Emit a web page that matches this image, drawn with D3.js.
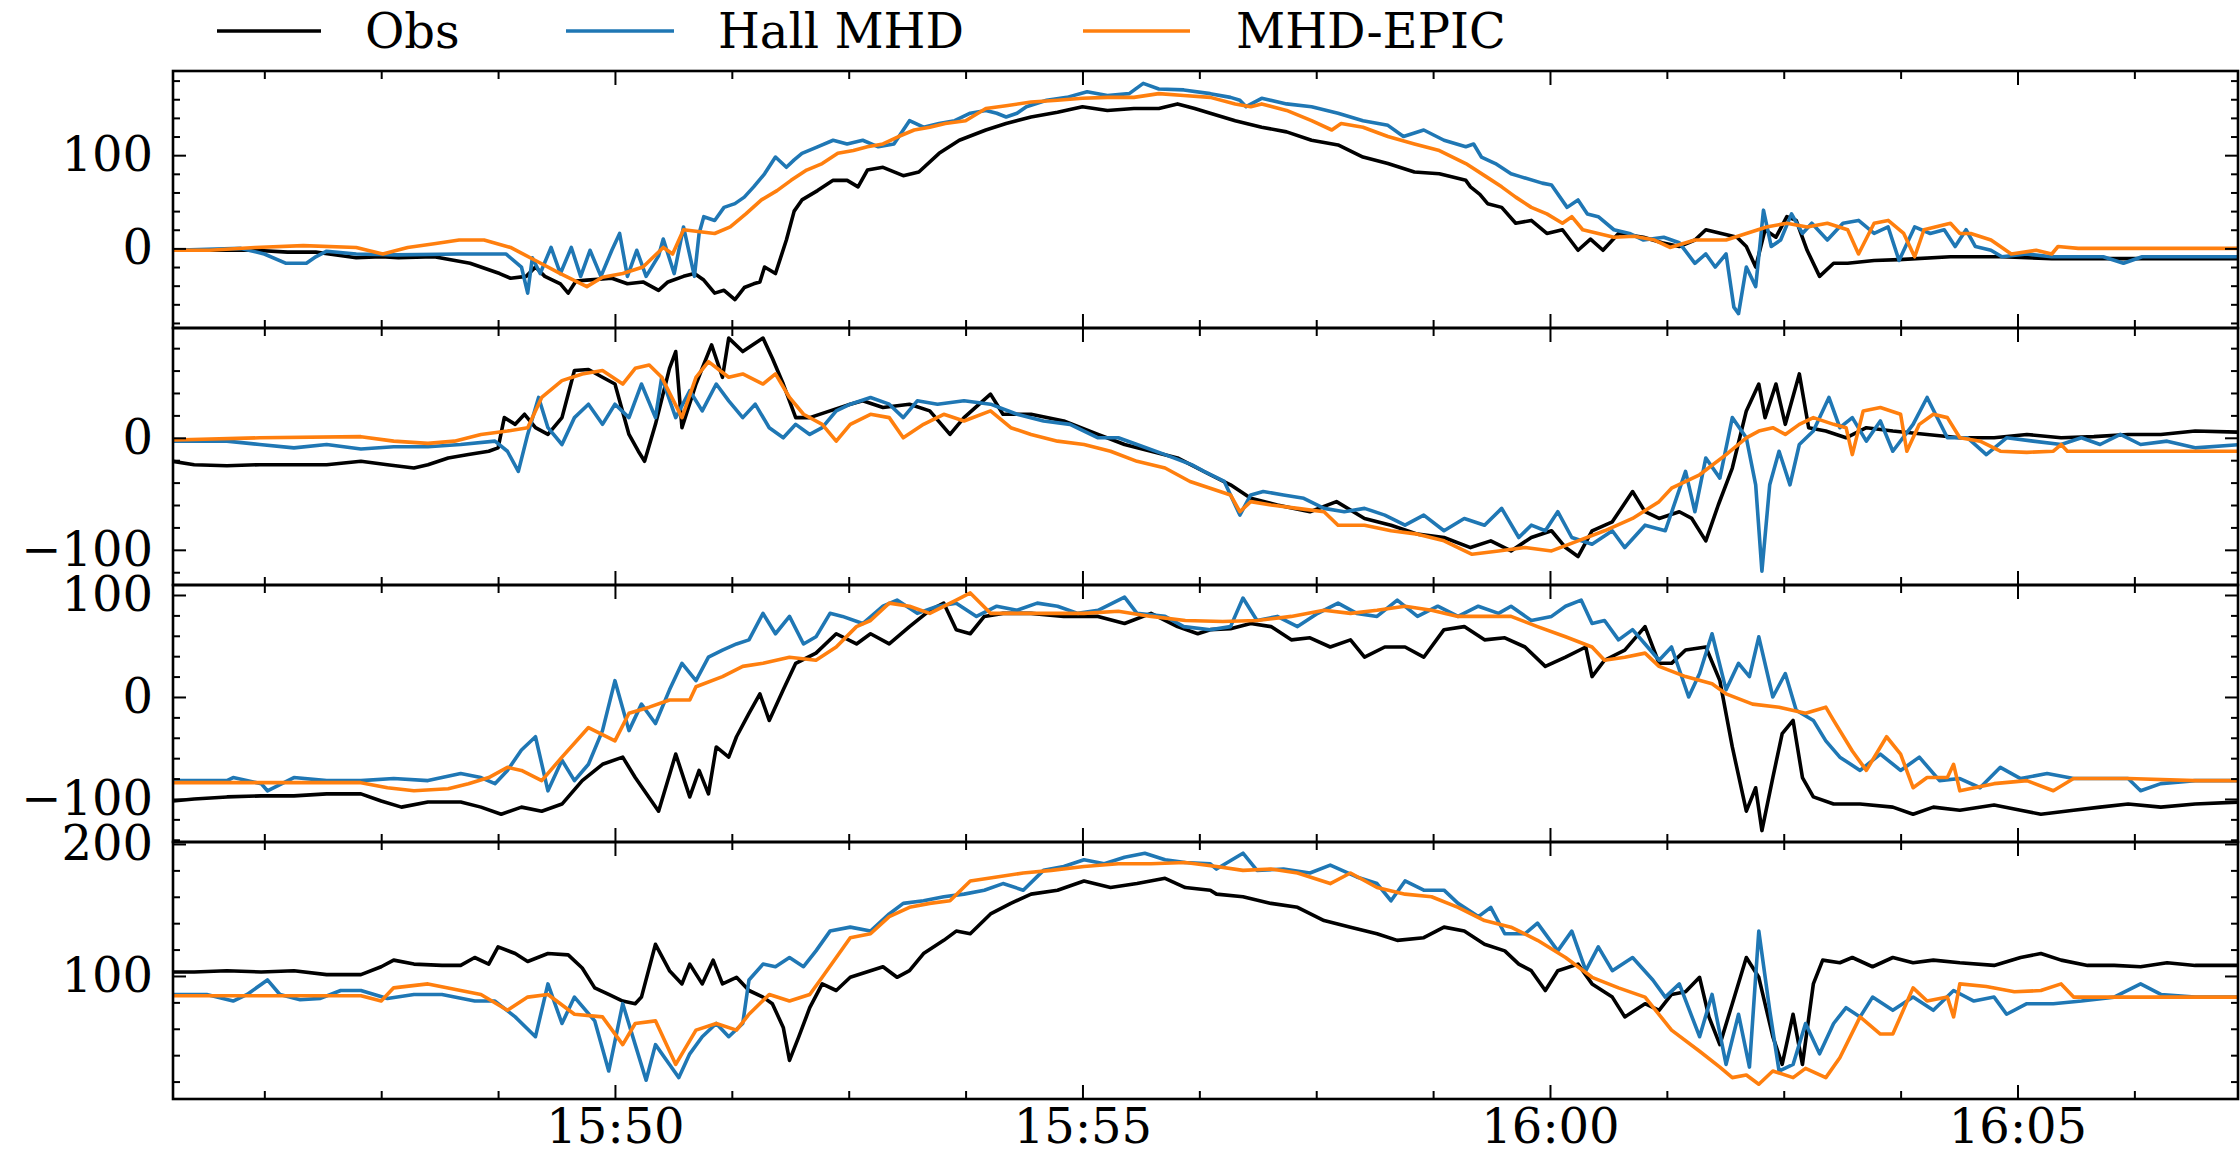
<!DOCTYPE html>
<html>
<head>
<meta charset="utf-8">
<script src="https://cdn.jsdelivr.net/npm/d3@7"></script>
<style>
  html, body { margin: 0; padding: 0; background: #ffffff; }
  svg { display: block; }
  text { font-family: "DejaVu Serif", serif; fill: #000; }
</style>
</head>
<body>
<svg id="chart" width="2240" height="1155"></svg>
<script>
// Magnetic field components, samples given as [seconds after 15:45:00 UT, nT]

const obsBx = [[16,-2],[69,-2],[90,-4],[108,-4],[134,-10],[150,-9],[161,-10],[184,-9],[207,-16],[226,-27],[233,-32],[243,-30],[249,-20],[255,-30],[265,-38],[270,-48],[275,-35],[282,-34],[298,-32],[308,-38],[318,-36],[328,-45],[334,-36],[344,-30],[351,-27],[357,-34],[364,-48],[370,-45],[377,-55],[383,-42],[389,-38],[393,-36],[396,-20],[403,-27],[410,9],[415,40],[420,52],[430,62],[440,73],[449,73],[456,66],[462,84],[472,87],[485,78],[495,82],[508,102],[521,116],[538,127],[551,134],[567,141],[584,146],[600,152],[616,148],[633,150],[649,150],[661,155],[672,150],[682,145],[698,137],[715,130],[731,125],[747,116],[764,111],[780,98],[796,91],[813,82],[829,80],[846,73],[849,66],[855,58],[860,48],[869,44],[878,27],[888,30],[898,16],[908,20],[918,-2],[926,10],[934,-2],[944,16],[960,12],[972,6],[983,2],[993,9],[1000,20],[1010,16],[1020,12],[1026,2],[1032,-20],[1038,20],[1045,12],[1052,34],[1058,30],[1065,-2],[1073,-30],[1082,-16],[1091,-16],[1108,-13],[1124,-12],[1157,-9],[1190,-9],[1222,-11],[1255,-11],[1288,-11],[1343,-11]];
const hallBx = [[16,-2],[60,0],[75,-6],[89,-16],[102,-16],[108,-9],[115,-3],[134,-6],[160,-7],[200,-6],[230,-6],[240,-20],[244,-48],[247,-10],[252,-27],[259,1],[265,-27],[272,1],[278,-30],[284,-2],[291,-30],[298,-2],[303,16],[308,-30],[314,-2],[320,-30],[328,-8],[331,10],[338,-27],[344,23],[351,-30],[354,16],[357,34],[364,30],[370,44],[377,48],[383,55],[389,66],[396,80],[403,98],[410,87],[415,95],[420,102],[430,109],[440,116],[449,112],[459,116],[469,109],[479,112],[489,137],[498,130],[508,134],[518,137],[528,145],[538,148],[545,145],[551,141],[558,145],[564,152],[577,159],[590,162],[603,168],[616,164],[630,166],[639,177],[649,171],[665,170],[682,166],[695,162],[701,159],[705,152],[715,161],[731,155],[747,152],[764,145],[780,137],[796,132],[806,120],[819,127],[832,116],[846,109],[851,112],[856,98],[865,91],[875,80],[881,77],[895,70],[901,68],[911,44],[918,52],[924,37],[931,34],[941,20],[951,16],[960,9],[973,12],[983,6],[993,-16],[1000,-6],[1006,-20],[1013,-6],[1018,-63],[1021,-70],[1026,-20],[1032,-41],[1037,41],[1042,2],[1048,9],[1055,37],[1062,16],[1068,27],[1078,9],[1088,27],[1098,30],[1108,16],[1117,23],[1124,-13],[1134,23],[1144,16],[1153,20],[1160,2],[1167,20],[1173,2],[1183,-2],[1190,-9],[1206,-6],[1222,-9],[1255,-9],[1268,-16],[1280,-9],[1321,-9],[1343,-9]];
const epicBx = [[16,-2],[40,-2],[69,1],[100,3],[134,1],[151,-6],[167,1],[184,5],[200,9],[216,9],[233,1],[249,-13],[265,-27],[282,-41],[292,-31],[305,-27],[318,-20],[331,1],[337,-6],[344,20],[364,16],[374,23],[384,37],[394,52],[404,62],[413,73],[423,84],[433,91],[443,102],[453,105],[462,109],[472,112],[482,120],[492,127],[502,130],[512,134],[525,137],[538,150],[551,153],[567,157],[584,159],[600,161],[616,162],[633,162],[649,166],[665,164],[682,162],[698,155],[708,152],[715,155],[731,148],[747,137],[760,127],[766,134],[780,130],[796,120],[813,112],[829,105],[846,91],[859,77],[869,66],[878,55],[888,44],[898,37],[908,27],[914,34],[921,20],[931,16],[941,12],[954,13],[967,9],[977,1],[993,9],[1013,9],[1026,16],[1039,23],[1052,27],[1065,23],[1078,27],[1091,20],[1098,-6],[1108,27],[1117,30],[1127,16],[1134,-9],[1140,20],[1157,27],[1163,16],[1170,16],[1183,9],[1196,-6],[1212,-2],[1222,-6],[1226,2],[1239,0],[1288,0],[1343,0]];

const obsBy = [[16,-21],[30,-24],[51,-25],[72,-24],[94,-24],[115,-24],[137,-21],[154,-24],[171,-27],[180,-24],[193,-18],[206,-15],[219,-12],[225,-9],[229,18],[236,12],[242,21],[249,9],[257,3],[266,18],[274,60],[283,61],[292,54],[300,48],[309,3],[315,-12],[319,-21],[326,12],[335,62],[339,77],[343,9],[352,48],[362,83],[369,54],[373,89],[382,77],[395,89],[401,71],[408,48],[416,18],[425,18],[438,24],[451,30],[459,33],[472,27],[489,30],[502,24],[515,3],[524,18],[541,39],[549,21],[567,21],[588,15],[610,3],[627,-6],[644,-12],[661,-18],[682,-33],[695,-42],[708,-54],[725,-60],[746,-66],[763,-57],[781,-72],[798,-78],[815,-86],[832,-89],[849,-98],[862,-92],[875,-101],[888,-89],[901,-83],[910,-98],[918,-106],[927,-83],[940,-75],[953,-48],[961,-66],[970,-72],[983,-66],[991,-72],[1000,-92],[1008,-60],[1017,-27],[1026,24],[1034,48],[1038,18],[1045,48],[1051,12],[1060,57],[1066,9],[1077,6],[1090,0],[1103,9],[1120,6],[1142,3],[1163,0],[1185,0],[1206,3],[1228,0],[1249,1],[1271,3],[1292,3],[1314,6],[1343,5]];
const hallBy = [[16,-3],[51,-3],[72,-6],[94,-9],[115,-6],[137,-10],[158,-8],[180,-8],[201,-6],[223,-3],[231,-12],[238,-30],[244,3],[251,36],[257,9],[266,-6],[274,18],[283,30],[292,12],[300,30],[309,18],[317,48],[326,18],[330,54],[339,18],[348,42],[356,24],[365,48],[373,33],[382,18],[390,30],[399,9],[408,0],[416,12],[425,3],[433,9],[442,24],[451,30],[464,36],[476,30],[485,18],[494,33],[507,30],[524,33],[541,30],[558,21],[575,15],[592,12],[610,0],[623,0],[635,-6],[653,-15],[670,-24],[678,-30],[691,-39],[701,-69],[708,-51],[716,-48],[729,-51],[742,-54],[755,-63],[768,-66],[781,-63],[794,-69],[807,-78],[819,-69],[832,-83],[845,-72],[858,-78],[869,-63],[880,-89],[888,-78],[897,-83],[905,-66],[914,-89],[927,-95],[940,-83],[948,-98],[961,-78],[974,-83],[987,-30],[993,-66],[1000,-18],[1009,-36],[1017,18],[1026,0],[1032,-42],[1036,-119],[1041,-42],[1047,-12],[1054,-42],[1060,-6],[1069,6],[1079,36],[1086,9],[1094,18],[1103,-3],[1112,15],[1120,-12],[1133,12],[1142,36],[1155,0],[1168,0],[1180,-15],[1193,0],[1210,-3],[1228,-6],[1241,0],[1253,-6],[1266,3],[1279,-6],[1296,-3],[1314,-9],[1343,-6]];
const epicBy = [[16,-2],[72,0],[137,1],[158,-3],[180,-5],[197,-3],[214,3],[231,6],[244,9],[253,36],[266,51],[279,57],[292,60],[305,48],[313,62],[322,65],[330,54],[343,18],[352,54],[360,68],[373,54],[382,57],[395,48],[403,57],[412,36],[421,21],[433,12],[442,-3],[451,12],[464,21],[476,18],[485,0],[498,12],[511,21],[524,15],[541,24],[554,9],[567,3],[584,-3],[601,-6],[618,-12],[635,-21],[653,-27],[669,-39],[682,-45],[695,-51],[701,-66],[708,-57],[721,-60],[738,-63],[755,-66],[764,-78],[781,-78],[798,-83],[815,-86],[832,-92],[850,-104],[867,-101],[884,-98],[901,-101],[918,-92],[935,-83],[953,-72],[970,-57],[978,-45],[996,-33],[1013,-15],[1026,0],[1034,6],[1043,9],[1051,3],[1060,12],[1069,18],[1082,12],[1090,9],[1094,-15],[1101,24],[1112,27],[1125,21],[1129,-12],[1137,12],[1146,21],[1155,18],[1163,0],[1176,-3],[1189,-12],[1206,-13],[1223,-12],[1228,-6],[1232,-12],[1271,-12],[1343,-12]];

const obsBz = [[16,-102],[30,-100],[51,-98],[73,-97],[94,-97],[115,-95],[137,-95],[150,-102],[163,-108],[180,-103],[201,-103],[214,-108],[227,-115],[240,-108],[253,-112],[266,-105],[279,-82],[292,-66],[305,-59],[313,-79],[328,-112],[339,-56],[348,-98],[354,-72],[360,-95],[365,-49],[373,-59],[378,-39],[386,-16],[393,3],[399,-23],[408,7],[416,33],[429,43],[442,62],[455,52],[464,62],[476,52],[489,69],[502,85],[511,92],[519,66],[528,62],[537,79],[549,82],[567,82],[588,79],[610,79],[627,72],[644,82],[661,69],[674,62],[682,66],[695,67],[708,72],[721,69],[734,56],[746,58],[759,49],[772,56],[781,39],[794,49],[807,49],[819,39],[832,66],[845,69],[858,56],[871,58],[884,49],[897,30],[910,39],[923,49],[927,20],[935,36],[948,46],[961,69],[970,33],[978,33],[987,46],[1000,49],[1009,16],[1017,-49],[1026,-112],[1032,-89],[1036,-131],[1043,-79],[1049,-36],[1056,-23],[1062,-79],[1069,-98],[1082,-105],[1099,-105],[1120,-108],[1133,-115],[1146,-108],[1163,-111],[1185,-106],[1202,-111],[1215,-115],[1236,-111],[1253,-108],[1271,-105],[1292,-108],[1314,-105],[1343,-103]];
const hallBz = [[16,-82],[51,-82],[55,-79],[73,-85],[77,-92],[94,-79],[115,-82],[137,-82],[158,-80],[180,-82],[201,-75],[214,-79],[223,-85],[231,-72],[240,-52],[249,-39],[257,-92],[266,-62],[274,-82],[283,-66],[292,-33],[300,16],[309,-33],[317,-7],[326,-26],[335,7],[343,33],[352,16],[360,39],[369,46],[378,52],[386,56],[395,82],[403,62],[412,79],[421,52],[429,59],[438,82],[446,79],[459,72],[472,89],[481,95],[494,82],[507,89],[519,92],[532,79],[545,89],[558,85],[571,92],[584,89],[597,82],[610,85],[627,98],[635,82],[653,79],[665,69],[682,66],[695,69],[703,97],[712,75],[725,79],[738,69],[751,82],[764,92],[776,82],[789,79],[802,95],[815,79],[828,89],[841,79],[854,89],[867,82],[875,89],[888,75],[901,79],[910,89],[920,95],[927,72],[935,75],[944,56],[953,66],[961,52],[970,36],[978,49],[989,0],[996,23],[1004,62],[1013,7],[1021,33],[1028,20],[1034,59],[1043,0],[1051,23],[1058,-13],[1069,-23],[1077,-43],[1086,-59],[1099,-72],[1112,-56],[1125,-72],[1137,-59],[1150,-82],[1163,-80],[1176,-89],[1189,-69],[1202,-80],[1219,-75],[1236,-80],[1253,-80],[1271,-80],[1279,-92],[1292,-85],[1314,-82],[1343,-82]];
const epicBz = [[16,-84],[137,-84],[154,-89],[171,-92],[193,-90],[206,-85],[219,-79],[231,-69],[240,-72],[253,-82],[266,-59],[283,-30],[300,-43],[309,-16],[322,-10],[335,-3],[348,-3],[352,10],[369,20],[382,30],[395,33],[412,39],[429,36],[442,49],[455,69],[464,75],[476,92],[489,89],[502,82],[519,95],[528,102],[541,82],[558,82],[580,82],[601,82],[623,84],[644,79],[666,75],[690,74],[712,75],[734,79],[755,85],[772,82],[789,85],[807,89],[824,85],[841,79],[858,79],[875,79],[892,69],[910,59],[927,49],[935,36],[948,39],[961,43],[970,30],[987,20],[1004,13],[1013,3],[1030,-7],[1047,-10],[1064,-16],[1077,-10],[1082,-23],[1094,-53],[1103,-72],[1116,-39],[1125,-56],[1133,-89],[1142,-79],[1155,-79],[1159,-66],[1163,-92],[1185,-85],[1206,-82],[1223,-92],[1236,-80],[1271,-80],[1314,-82],[1343,-82]];

const obsBt = [[16,103],[30,103],[51,104],[73,103],[94,104],[115,101],[137,101],[150,107],[158,112],[171,109],[189,108],[201,108],[210,114],[219,109],[225,122],[236,117],[244,111],[257,117],[270,116],[279,106],[287,91],[296,86],[305,81],[313,79],[317,84],[326,124],[335,104],[343,94],[348,109],[356,94],[363,112],[369,94],[378,99],[386,89],[395,84],[401,79],[408,61],[412,36],[418,54],[425,76],[433,94],[442,89],[451,99],[464,104],[472,107],[481,99],[489,104],[498,117],[511,127],[519,134],[528,132],[541,147],[554,155],[567,162],[584,165],[601,172],[618,167],[635,170],[653,174],[666,167],[682,165],[686,162],[703,160],[721,155],[738,152],[755,142],[772,137],[789,132],[802,127],[819,129],[832,137],[845,134],[858,124],[871,119],[880,109],[888,104],[897,89],[905,104],[918,109],[927,94],[940,84],[948,69],[961,79],[970,74],[978,86],[987,88],[996,99],[1002,69],[1009,48],[1017,79],[1026,114],[1034,99],[1043,54],[1049,33],[1056,71],[1062,33],[1069,94],[1075,112],[1086,110],[1094,114],[1107,107],[1120,114],[1133,110],[1146,112],[1163,110],[1185,108],[1202,114],[1215,117],[1228,112],[1245,108],[1262,108],[1279,107],[1296,110],[1314,108],[1343,108]];
const hallBt = [[16,86],[38,86],[55,81],[64,86],[77,97],[85,86],[98,82],[111,83],[124,89],[137,89],[154,83],[171,86],[189,86],[210,81],[223,81],[236,69],[249,54],[257,94],[266,64],[274,84],[287,66],[296,28],[305,79],[313,48],[320,21],[326,48],[335,33],[341,23],[348,41],[356,54],[365,64],[373,54],[382,64],[386,97],[395,109],[403,107],[412,114],[421,107],[429,119],[438,134],[451,137],[464,134],[476,147],[485,155],[498,157],[511,160],[524,162],[537,165],[549,170],[562,165],[575,180],[588,183],[601,188],[614,185],[627,190],[640,193],[653,188],[666,186],[682,185],[686,181],[703,193],[712,180],[729,181],[746,178],[759,184],[776,175],[789,170],[798,157],[807,172],[819,165],[832,165],[841,155],[854,145],[862,152],[871,132],[884,132],[892,140],[905,119],[914,134],[923,104],[931,122],[940,104],[953,114],[966,97],[974,84],[983,94],[996,54],[1004,86],[1013,33],[1021,71],[1028,31],[1034,134],[1041,74],[1047,28],[1056,33],[1064,64],[1073,41],[1082,64],[1090,76],[1099,69],[1107,84],[1120,74],[1133,84],[1146,74],[1159,89],[1172,81],[1185,84],[1193,71],[1206,79],[1223,79],[1241,81],[1262,84],[1279,94],[1292,86],[1314,84],[1343,84]];
const epicBt = [[16,85],[60,85],[100,85],[137,85],[150,81],[158,91],[180,94],[201,89],[214,86],[231,74],[244,84],[257,86],[274,71],[292,69],[305,48],[313,64],[326,66],[339,33],[352,59],[365,64],[378,59],[386,71],[399,86],[412,81],[425,86],[433,99],[442,114],[451,129],[464,132],[476,145],[489,152],[502,155],[515,157],[528,172],[545,175],[562,178],[580,180],[601,183],[623,185],[644,185],[666,186],[686,183],[703,180],[721,181],[738,178],[759,170],[772,178],[789,167],[807,162],[824,160],[841,152],[858,142],[875,137],[892,127],[910,114],[927,99],[944,91],[961,84],[978,59],[996,43],[1009,31],[1017,23],[1026,25],[1034,18],[1043,28],[1056,23],[1064,30],[1077,23],[1086,38],[1099,69],[1112,56],[1120,56],[1133,91],[1142,81],[1155,84],[1159,69],[1163,94],[1180,92],[1198,88],[1215,89],[1228,94],[1236,84],[1271,84],[1314,84],[1343,84]];

// Axis limits and labelled ticks (nT) for each stacked panel
const yLimits = [[-85.4, 190.3], [-131.4, 98], [-142.2, 109.8], [6.8, 201.5]];
const yMajorTicks = [[0, 100], [-100, 0], [-100, 0, 100], [100, 200]];
const timeLimits = [16.4, 1341.5];           // seconds after 15:45:00
const seriesNames = ["Obs", "Hall MHD", "MHD-EPIC"];
const seriesColors = ["#000000", "#1f77b4", "#ff7f0e"];
const panelSeries = [
  [obsBx, hallBx, epicBx],
  [obsBy, hallBy, epicBy],
  [obsBz, hallBz, epicBz],
  [obsBt, hallBt, epicBt]
];

// ---- layout ----
const chartW = 2240, chartH = 1155;
const plotLeft = 173, plotRight = 2238, plotTop = 71, panelH = 257;
const fontSize = 48;
const majorLen = 13, minorLen = 7;

const t0 = Date.UTC(2000, 0, 1, 15, 45, 0);
const toDate = s => new Date(t0 + s * 1000);

const svg = d3.select("#chart");
svg.append("rect").attr("width", chartW).attr("height", chartH).attr("fill", "#fff");

const x = d3.scaleUtc().domain(timeLimits.map(toDate)).range([plotLeft, plotRight]);
const majorTimes = d3.utcMinute.every(5).range(x.domain()[0], x.domain()[1]);
// minor ticks at quarter steps (75 s) between the 5-minute marks
const minorTimes = d3.range(0, 1400, 75).map(toDate)
  .filter(d => d >= x.domain()[0] && d <= x.domain()[1])
  .filter(d => !majorTimes.some(m => +m === +d));

const makeLine = (xs, ys) => d3.line().x(d => xs(toDate(d[0]))).y(d => ys(d[1]));

const styleAxis = sel => {
  sel.select(".domain").remove();
  sel.selectAll(".tick line").attr("stroke", "#000").attr("stroke-width", 2);
  sel.selectAll("text").attr("font-family", "DejaVu Serif, serif").attr("font-size", fontSize).attr("fill", "#000");
};

panelSeries.forEach((series, i) => {
  const y0 = plotTop + i * panelH, y1 = y0 + panelH;
  const y = d3.scaleLinear().domain(yLimits[i]).range([y1, y0]);
  const g = svg.append("g");

  const clipId = "clip" + i;
  svg.append("clipPath").attr("id", clipId)
    .append("rect").attr("x", plotLeft).attr("y", y0).attr("width", plotRight - plotLeft).attr("height", panelH);

  const lines = g.append("g").attr("clip-path", `url(#${clipId})`);
  series.forEach((data, k) => {
    lines.append("path")
      .datum(data)
      .attr("d", makeLine(x, y))
      .attr("fill", "none")
      .attr("stroke", seriesColors[k])
      .attr("stroke-width", 3.6)
      .attr("stroke-linejoin", "round")
      .attr("stroke-linecap", "round");
  });

  const minorY = d3.range(Math.ceil(yLimits[i][0] / 20) * 20, yLimits[i][1], 20)
    .filter(v => !yMajorTicks[i].includes(v));

  // left: labelled major ticks and minor ticks, all pointing inward
  g.append("g").attr("transform", `translate(${plotLeft},0)`)
    .call(d3.axisLeft(y).tickValues(yMajorTicks[i]).tickSize(-majorLen).tickPadding(20)
      .tickFormat(d => d < 0 ? "\u2212" + Math.abs(d) : String(d)))
    .call(styleAxis);
  g.append("g").attr("transform", `translate(${plotLeft},0)`)
    .call(d3.axisLeft(y).tickValues(minorY).tickSize(-minorLen).tickFormat(""))
    .call(styleAxis);
  // right mirror ticks
  g.append("g").attr("transform", `translate(${plotRight},0)`)
    .call(d3.axisRight(y).tickValues(yMajorTicks[i]).tickSize(-majorLen).tickFormat(""))
    .call(styleAxis);
  g.append("g").attr("transform", `translate(${plotRight},0)`)
    .call(d3.axisRight(y).tickValues(minorY).tickSize(-minorLen).tickFormat(""))
    .call(styleAxis);

  // top and bottom time ticks
  g.append("g").attr("transform", `translate(0,${y0})`)
    .call(d3.axisTop(x).tickValues(majorTimes).tickSize(-14).tickFormat(""))
    .call(styleAxis);
  g.append("g").attr("transform", `translate(0,${y0})`)
    .call(d3.axisTop(x).tickValues(minorTimes).tickSize(-minorLen - 1).tickFormat(""))
    .call(styleAxis);
  const isLast = i === panelSeries.length - 1;
  const bottomAxis = g.append("g").attr("transform", `translate(0,${y1})`)
    .call(d3.axisBottom(x).tickValues(majorTimes).tickSize(-14).tickPadding(10)
      .tickFormat(isLast ? d3.utcFormat("%H:%M") : ""))
    .call(styleAxis);
  if (isLast) bottomAxis.selectAll("text").attr("dy", null).attr("y", 44);
  g.append("g").attr("transform", `translate(0,${y1})`)
    .call(d3.axisBottom(x).tickValues(minorTimes).tickSize(-minorLen - 1).tickFormat(""))
    .call(styleAxis);

  // frame
  g.append("rect")
    .attr("x", plotLeft).attr("y", y0).attr("width", plotRight - plotLeft).attr("height", panelH)
    .attr("fill", "none").attr("stroke", "#000").attr("stroke-width", 2.6);
});

// legend across the top
const legendItems = [
  { x1: 217, x2: 321, tx: 365 },
  { x1: 566, x2: 674, tx: 718 },
  { x1: 1083, x2: 1190, tx: 1236 }
];
const legend = svg.append("g");
legendItems.forEach((it, k) => {
  legend.append("line")
    .attr("x1", it.x1).attr("x2", it.x2).attr("y1", 31).attr("y2", 31)
    .attr("stroke", seriesColors[k]).attr("stroke-width", 3.6);
  legend.append("text")
    .attr("x", it.tx).attr("y", 48)
    .attr("font-size", fontSize)
    .text(seriesNames[k]);
});
</script>
</body>
</html>
